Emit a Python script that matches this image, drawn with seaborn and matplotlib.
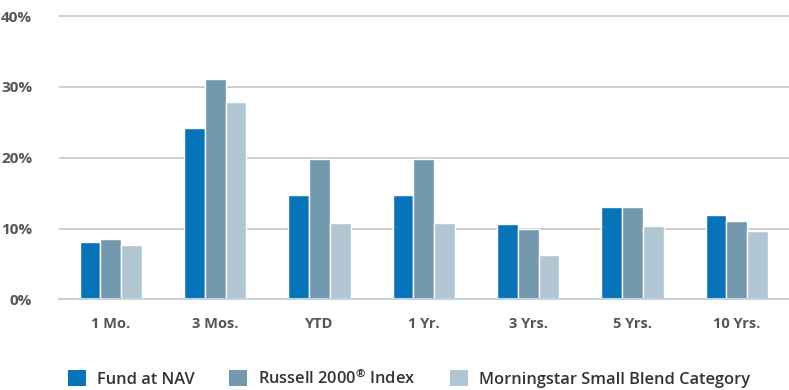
import matplotlib
matplotlib.use("Agg")
import matplotlib.pyplot as plt
from matplotlib.patches import Patch
from matplotlib.ticker import FixedLocator, NullFormatter
import numpy as np
import pandas as pd
import seaborn as sns

periods = ["1 Mo.", "3 Mos.", "YTD", "1 Yr.", "3 Yrs.", "5 Yrs.", "10 Yrs."]
fund_nav = [8.1, 24.2, 14.8, 14.8, 10.6, 13.1, 11.9]
russell_2000 = [8.5, 31.1, 19.8, 19.8, 10.0, 13.1, 11.0]
morningstar_blend = [7.6, 27.8, 10.8, 10.8, 6.2, 10.4, 9.6]
series_names = ["Fund at NAV", "Russell 2000\u00ae Index", "Morningstar Small Blend Category"]
legend_labels = ["Fund at NAV", "Russell 2000$^{\u00ae}$ Index", "Morningstar Small Blend Category"]
y_ticks = [0, 10, 20, 30, 40]

colors = ["#0773b8", "#7399ae", "#b0c7d3"]

df = pd.DataFrame({
    "period": periods * 3,
    "series": sum([[s] * len(periods) for s in series_names], []),
    "value": fund_nav + russell_2000 + morningstar_blend,
})

sns.set_theme(style="white")
plt.rcParams["font.family"] = ["Open Sans", "DejaVu Sans"]
plt.rcParams["mathtext.fontset"] = "custom"
plt.rcParams["mathtext.rm"] = "Open Sans:semibold"
plt.rcParams["mathtext.it"] = "Open Sans:semibold"
plt.rcParams["mathtext.bf"] = "Open Sans:bold"
plt.rcParams["mathtext.default"] = "rm"

fig = plt.figure(figsize=(7.89, 3.90), dpi=100)
ax = fig.add_axes([58.7 / 789, 90.7 / 390, 1 - 58.7 / 789, (299.3 - 14.7) / 390])

sns.barplot(data=df, x="period", y="value", hue="series", order=periods,
            hue_order=series_names, palette=colors, width=0.6,
            edgecolor="white", linewidth=1.0, saturation=1, ax=ax, legend=False)

ax.set_xlim(-0.5, len(periods) - 0.5)
ax.set_ylim(0, 40.2)
ax.set_yticks(y_ticks)
ax.set_yticklabels([f"{v}%" for v in y_ticks], fontsize=11, color="#555555",
                   fontweight="bold")
ax.yaxis.grid(True, color="#cccccc", linewidth=1.3)
ax.set_axisbelow(True)
ax.tick_params(axis="y", length=0, pad=19)

# Category separators as major ticks, labels on minor ticks at bar group centres
ax.xaxis.set_major_locator(FixedLocator(np.arange(-0.5, len(periods), 1.0)))
ax.xaxis.set_major_formatter(NullFormatter())
ax.xaxis.set_minor_locator(FixedLocator(np.arange(len(periods))))
ax.set_xticklabels(periods, minor=True, fontsize=10.5, color="#555555",
                   fontweight="bold")
ax.tick_params(axis="x", which="major", length=12, width=1.3, color="#c5d3df",
               direction="out")
ax.tick_params(axis="x", which="minor", length=0, pad=13)

ax.set_xlabel("")
ax.set_ylabel("")
for side in ["top", "right", "left"]:
    ax.spines[side].set_visible(False)
ax.spines["bottom"].set_color("#c5d3df")
ax.spines["bottom"].set_linewidth(1.5)

handles = [Patch(facecolor=c, edgecolor="none") for c in colors]
fig.legend(handles, legend_labels, loc="center left", bbox_to_anchor=(68 / 789, 12 / 390),
           ncol=3, frameon=False, handlelength=1.1, handleheight=1.1,
           handletextpad=0.67, columnspacing=2.1, borderaxespad=0, borderpad=0,
           prop={"family": ["Open Sans", "DejaVu Sans"], "weight": "semibold", "size": 11.8},
           labelcolor="#333333")

fig.savefig("out.png", dpi=100)
